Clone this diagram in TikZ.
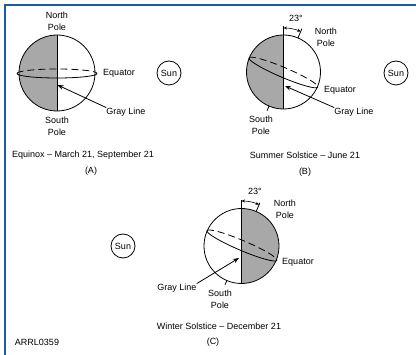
\documentclass[tikz,border=0pt]{standalone}
\usepackage{fontspec}
\setmainfont{Liberation Sans}
\usetikzlibrary{arrows.meta}
\definecolor{nightgray}{RGB}{168,168,168}
\definecolor{framebl}{RGB}{28,92,164}
\begin{document}
\begin{tikzpicture}[x=1pt,y=-1pt,
  lbl/.style={font=\fontsize{9}{12}\selectfont, inner sep=0pt, align=center},
  outline/.style={line width=0.8pt, draw=black},
  backline/.style={outline, dash pattern=on 7pt off 4pt},
  night/.style={fill=nightgray},
  pointer/.style={line width=0.8pt, -{Stealth[length=6pt,width=4.5pt]}},
  tiltarc/.style={line width=0.6pt, {Stealth[length=3.5pt,width=3pt]}-{Stealth[length=3.5pt,width=3pt]}},
  sunball/.style={circle, draw, line width=0.8pt, minimum size=24pt, inner sep=0pt, font=\fontsize{9}{10}\selectfont},
  framebar/.style={line width=2pt, draw=framebl}
]
\useasboundingbox (0,0) rectangle (416,355);
\draw[framebar] (5,355) -- (5,5) -- (416,5);

% ---------- (A) Equinox ----------
\coordinate (cA) at (57,73);
\begin{scope}
  \clip (cA) circle[radius=38];
  \fill[night] (17,30) rectangle (57,115);
\end{scope}
\draw[outline] (cA) circle[radius=38];
\coordinate (nA) at (57,35);
\coordinate (sA) at (57,111);
\draw[outline] (nA) -- (sA);
\draw[backline] (17,73.5) arc[start angle=180,end angle=360,x radius=40,y radius=4.5];
\draw[outline] (17,73.5) arc[start angle=180,end angle=0,x radius=40,y radius=4.5];
\node[lbl] (northA) at (57,21) {North\\Pole};
\node[lbl] (southA) at (57,126) {South\\Pole};
\node[lbl] (eqA) at (119,73) {Equator};
\node[sunball] (sunA) at (169,73) {Sun};
\node[lbl] (glA) at (126,112) {Gray Line};
\coordinate (tipA) at (57.5,85);
\draw[pointer] (glA.north west) -- (tipA);
\node[lbl] (capA) at (83,155) {Equinox -- March 21, September 21};
\node[lbl] (tagA) at (91,171) {(A)};

% ---------- (B) Summer solstice ----------
\coordinate (cB) at (283.5,72);
\begin{scope}
  \clip (cB) circle[radius=37];
  \fill[night] (245,30) rectangle (283.5,115);
\end{scope}
\draw[outline] (cB) circle[radius=37];
\coordinate (topB) at (283.5,26);
\coordinate (botB) at (283.5,109);
\draw[outline] (topB) -- (botB);
\draw[outline] ([shift={(-67:37)}]cB) -- ([shift={(-67:47)}]cB);
\draw[outline] ([shift={(113:37)}]cB) -- ([shift={(113:42)}]cB);
\draw[tiltarc] ([shift={(-90:44)}]cB) arc[start angle=-90,end angle=-67,radius=44];
\begin{scope}[rotate around={-23:(283.5,72.5)}]
  \draw[backline] (246,72.5) arc[start angle=180,end angle=360,x radius=37.5,y radius=5];
  \draw[outline] (246,72.5) arc[start angle=180,end angle=0,x radius=37.5,y radius=5];
\end{scope}
\node[lbl] (degB) at (296,18) {23°};
\node[lbl] (northB) at (326,37.5) {North\\Pole};
\node[lbl] (southB) at (261,125) {South\\Pole};
\node[lbl] (eqB) at (340,90) {Equator};
\node[sunball] (sunB) at (396,73) {Sun};
\node[lbl] (glB) at (354,112) {Gray Line};
\coordinate (tipB) at (285,86);
\draw[pointer] (glB.north west) -- (tipB);
\node[lbl] (capB) at (305,155) {Summer Solstice -- June 21};
\node[lbl] (tagB) at (305,172) {(B)};

% ---------- (C) Winter solstice ----------
\coordinate (cC) at (241.5,246);
\begin{scope}
  \clip (cC) circle[radius=37.5];
  \fill[night] (241.5,205) rectangle (282,290);
\end{scope}
\draw[outline] (cC) circle[radius=37.5];
\coordinate (topC) at (241.5,200);
\coordinate (botC) at (241.5,283.5);
\draw[outline] (topC) -- (botC);
\draw[outline] ([shift={(-67:37.5)}]cC) -- ([shift={(-67:47)}]cC);
\draw[outline] ([shift={(113:37.5)}]cC) -- ([shift={(113:42)}]cC);
\draw[tiltarc] ([shift={(-90:45)}]cC) arc[start angle=-90,end angle=-67,radius=45];
\begin{scope}[rotate around={-23:(242,245.5)}]
  \draw[backline] (204,245.5) arc[start angle=180,end angle=360,x radius=38,y radius=5];
  \draw[outline] (204,245.5) arc[start angle=180,end angle=0,x radius=38,y radius=5];
\end{scope}
\node[lbl] (degC) at (255,191) {23°};
\node[lbl] (northC) at (285,209) {North\\Pole};
\node[lbl] (southC) at (220,299) {South\\Pole};
\node[lbl] (eqC) at (298,262) {Equator};
\node[sunball] (sunC) at (123,246) {Sun};
\node[lbl] (glC) at (177,288) {Gray Line};
\coordinate (tipC) at (239,258);
\draw[pointer] (glC.north east) -- (tipC);
\node[lbl] (capC) at (219,326) {Winter Solstice -- December 21};
\node[lbl] (tagC) at (213,342) {(C)};

\node[lbl] (code) at (37,342) {ARRL0359};
\end{tikzpicture}
\end{document}
